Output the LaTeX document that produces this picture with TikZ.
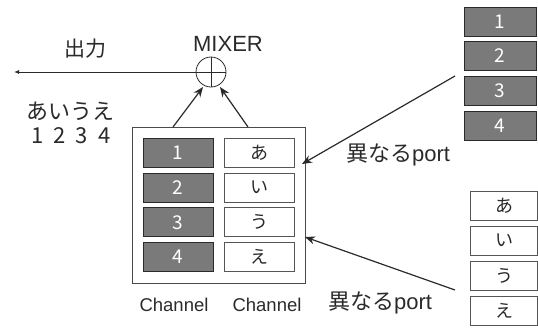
\documentclass[tikz,border=0pt]{standalone}
\usepackage{fontspec}
\setmainfont{Liberation Sans}
\newfontfamily\jp{Noto Sans CJK JP}
\usetikzlibrary{arrows.meta}
\definecolor{ink}{HTML}{2A2A2A}
\definecolor{chgray}{HTML}{7A7A7A}
\tikzset{
  darkbox/.style={draw=ink, line width=1pt, fill=chgray, minimum width=70pt, minimum height=29pt, inner sep=0pt, text=white, font=\jp\fontsize{19}{20}\selectfont},
  lightbox/.style={draw=ink!80, line width=0.8pt, fill=white, minimum width=70pt, minimum height=29pt, inner sep=0pt, text=ink, font=\jp\fontsize{18}{20}\selectfont},
  conn/.style={draw=ink, line width=1.2pt, -{Stealth[length=10pt,width=8pt]}},
  lbl/.style={inner sep=0pt, text=ink},
}
\begin{document}
\begin{tikzpicture}[x=1pt,y=-1pt]
\useasboundingbox (0,0) rectangle (538,327);
% mixer
\node[draw=ink, line width=0.8pt, circle, minimum size=30pt, inner sep=0pt] (mix) at (211,72) {};
\draw[ink, line width=0.6pt] (mix.north) -- (mix.south) (mix.west) -- (mix.east);
\node[lbl, font=\fontsize{22}{24}\selectfont] (mixlbl) at (228,44) {MIXER};
\coordinate (out) at (14,72);
\draw[ink, line width=1pt, -{Latex[length=5pt,width=4pt]}] (mix.west) -- (out);
\node[lbl, font=\jp\fontsize{21}{24}\selectfont] (outlbl) at (85,49) {出力};
\node[lbl, font=\jp\fontsize{22}{24}\selectfont] (kana) at (71,111) {あいうえ};
\node[lbl, font=\jp\fontsize{22}{24}\selectfont] (nums) at (71,136) {1\hspace{0.45em}2\hspace{0.45em}3\hspace{0.45em}4};
% main box
\node[draw=ink!85, line width=1pt, minimum width=173pt, minimum height=156pt, inner sep=0pt] (big) at (218.5,205) {};
\node[darkbox] (d1) at (178,153) {1};
\node[darkbox] (d2) at (178,187.7) {2};
\node[darkbox] (d3) at (178,222.3) {3};
\node[darkbox] (d4) at (178,257) {4};
\node[lightbox] (w1) at (259,153) {あ};
\node[lightbox] (w2) at (259,187.7) {い};
\node[lightbox] (w3) at (259,222.3) {う};
\node[lightbox] (w4) at (259,257) {え};
\node[lbl, font=\fontsize{18.5}{20}\selectfont] (ch1) at (174,305) {Channel};
\node[lbl, font=\fontsize{18.5}{20}\selectfont] (ch2) at (267,305) {Channel};
% arrows to mixer
\coordinate (s1) at (173,127);
\coordinate (s2) at (248,127);
\coordinate (e1) at (203,87);
\coordinate (e2) at (220,87);
\draw[conn] (s1) -- (e1);
\draw[conn] (s2) -- (e2);
% right top boxes
\node[darkbox, minimum width=72pt] (r1) at (500,21.5) {1};
\node[darkbox, minimum width=72pt] (r2) at (500,56) {2};
\node[darkbox, minimum width=72pt] (r3) at (500,90.5) {3};
\node[darkbox, minimum width=72pt] (r4) at (500,125.5) {4};
% right bottom boxes
\node[lightbox, minimum width=67pt] (b1) at (504,206) {あ};
\node[lightbox, minimum width=67pt] (b2) at (504,240.5) {い};
\node[lightbox, minimum width=67pt] (b3) at (504,276) {う};
\node[lightbox, minimum width=67pt] (b4) at (504,311) {え};
% port arrows
\coordinate (p1s) at (455,76);
\coordinate (p1e) at (302,164);
\coordinate (p2s) at (455,290);
\coordinate (p2e) at (305,237);
\draw[conn] (p1s) -- (p1e);
\draw[conn] (p2s) -- (p2e);
\node[lbl, font=\jp\fontsize{22}{24}\selectfont] (port1) at (398,155) {異なる{\rmfamily port}};
\node[lbl, font=\jp\fontsize{22}{24}\selectfont] (port2) at (380,303) {異なる{\rmfamily port}};
\end{tikzpicture}
\end{document}
